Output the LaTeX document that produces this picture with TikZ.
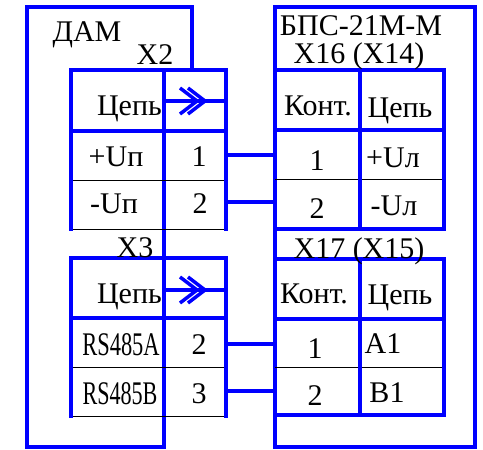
\documentclass[tikz,border=0pt]{standalone}
\usepackage{fontspec}
\setmainfont{Liberation Serif}
\usepackage{tikz}
\usepackage{graphicx}
\def\dblchev(#1,#2){\draw[chev] (#1-17,#2-13) -- (#1,#2) -- (#1-17,#2+13); \draw[chev] (#1-9,#2-13) -- (#1+8,#2) -- (#1-9,#2+13);}

\begin{document}
\begin{tikzpicture}[x=1pt,y=-1pt,
		bl/.style={draw=blue, line width=4pt, line cap=rect},
		thn/.style={draw=black, line width=0.8pt},
		chev/.style={draw=blue, line width=3.5pt},
		lbl/.style={inner sep=0pt, anchor=base, font=\fontsize{30}{32}\selectfont},
		nrw/.style={lbl, font=\fontsize{33}{35}\selectfont}]
			%%%%% START %%%%%
			
			\useasboundingbox (0,0) rectangle (483,450);
			
			\draw[bl] (192,70) -- (192,7) -- (27,7) -- (27,447) -- (164,447) -- (164,70);
			\node[lbl] (dam) at (87,41) {ДАМ};
			
			\draw[thn] (71,180) -- (226,180);
			\draw[thn] (71,229) -- (226,229);
			\draw[bl] (71,229) -- (71,70) -- (226,70) -- (226,229);
			\draw[bl] (71,131) -- (226,131);
			\draw[bl] (164,101) -- (226,101);
			\dblchev(197,101)
			\node[lbl] (x2) at (155,64) {X2};
			\node[lbl, anchor=base east] (x2hd) at (162,115) {Цепь};
			\node[lbl] (x2c1) at (116,166) {+Uп};
			\node[lbl] (x2n1) at (199,166) {1};
			\node[lbl] (x2c2) at (114,213) {-Uп};
			\node[lbl] (x2n2) at (200,213) {2};
			
			\draw[thn] (71,367) -- (226,367);
			\draw[thn] (71,416) -- (226,416);
			\draw[bl] (71,416) -- (71,258) -- (226,258) -- (226,416);
			\draw[bl] (71,318) -- (226,318);
			\draw[bl] (164,290) -- (226,290);
			\dblchev(197,290)
			\node[lbl] (x3) at (135,257) {X3};
			\node[lbl, anchor=base east] (x3hd) at (162,303) {Цепь};
			\node[nrw] (x3c1) at (121,355) {\scalebox{0.68}[1]{RS485A}};
			\node[lbl] (x3n2) at (199,354) {2};
			\node[nrw] (x3c2) at (120,404) {\scalebox{0.67}[1]{RS485B}};
			\node[lbl] (x3n3) at (199,403) {3};
			
			\draw[bl] (275,7) rectangle (475,447);
			\node[lbl] (bps) at (361,35) {БПС-21М-М};
			
			\draw[thn] (275,179) -- (444,179);
			\draw[bl] (275,70) -- (444,70) -- (444,229) -- (275,229);
			\draw[bl] (275,130) -- (444,130);
			\draw[bl] (360,70) -- (360,229);
			\node[lbl] (x16) at (359,63) {X16 (X14)};
			\node[lbl] (x16hk) at (318,115) {Конт.};
			\node[lbl] (x16hc) at (400,117) {Цепь};
			\node[lbl] (x16n1) at (317,170) {1};
			\node[lbl] (x16c1) at (393,167) {+Uл};
			\node[lbl] (x16n2) at (317,218) {2};
			\node[lbl] (x16c2) at (394,215) {-Uл};
			
			\draw[thn] (275,367) -- (444,367);
			\draw[bl] (275,259) -- (444,259) -- (444,415) -- (275,415);
			\draw[bl] (275,319) -- (444,319);
			\draw[bl] (360,259) -- (360,415);
			\node[lbl] (x17) at (359,258) {X17 (X15)};
			\node[lbl] (x17hk) at (314,303) {Конт.};
			\node[lbl] (x17hc) at (400,304) {Цепь};
			\node[lbl] (x17n1) at (315,358) {1};
			\node[lbl] (x17c1) at (383,353) {A1};
			\node[lbl] (x17n2) at (315,405) {2};
			\node[lbl] (x17c2) at (387,402) {B1};
			
			\coordinate (x2p1) at (226,155);
			\coordinate (x2p2) at (226,202);
			\coordinate (x16p1) at (275,155);
			\coordinate (x16p2) at (275,202);
			\coordinate (x3p2) at (226,344);
			\coordinate (x3p3) at (226,391);
			\coordinate (x17p1) at (275,344);
			\coordinate (x17p2) at (275,391);
			\draw[bl] (x2p1) -- (x16p1);
			\draw[bl] (x2p2) -- (x16p2);
			\draw[bl] (x3p2) -- (x17p1);
			\draw[bl] (x3p3) -- (x17p2);
			
			%%%%% END %%%%%
\end{tikzpicture}
\end{document}
